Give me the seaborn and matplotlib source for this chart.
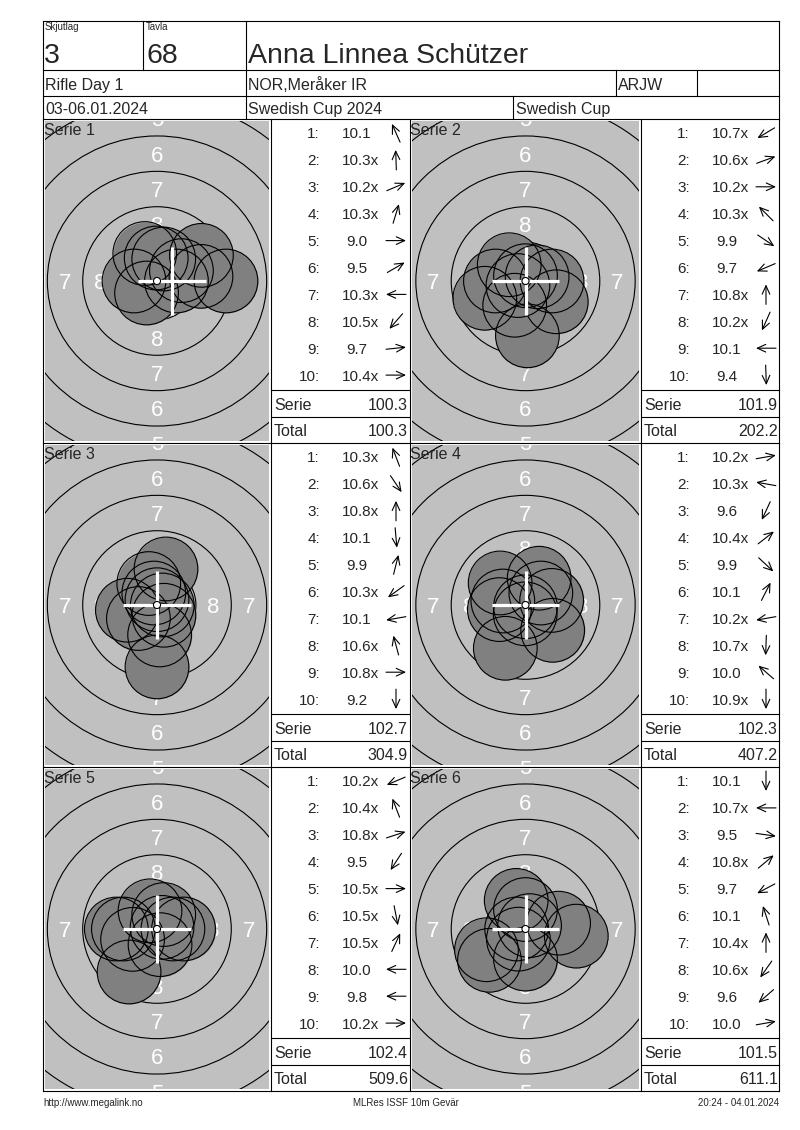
import numpy as np
import pandas as pd
import matplotlib
matplotlib.use("Agg")
import matplotlib.pyplot as plt
from matplotlib.patches import Circle
import seaborn as sns

# ---------------- data ----------------
shooter = "Anna Linnea Schützer"
relay_label, relay = "Skjutlag", "3"
lane_label, lane = "Tavla", "68"
event = "Rifle Day 1"
club = "NOR,Meråker IR"
shooter_class = "ARJW"
dates = "03-06.01.2024"
competition = "Swedish Cup 2024"
cup = "Swedish Cup"
footer_left = "http://www.megalink.no"
footer_mid = "MLRes ISSF 10m Gevär"
footer_right = "20:24 - 04.01.2024"

series_names = ["Serie 1", "Serie 2", "Serie 3", "Serie 4", "Serie 5", "Serie 6"]

s1_shots = ["10.1", "10.3x", "10.2x", "10.3x", "9.0", "9.5", "10.3x", "10.5x", "9.7", "10.4x"]
s2_shots = ["10.7x", "10.6x", "10.2x", "10.3x", "9.9", "9.7", "10.8x", "10.2x", "10.1", "9.4"]
s3_shots = ["10.3x", "10.6x", "10.8x", "10.1", "9.9", "10.3x", "10.1", "10.6x", "10.8x", "9.2"]
s4_shots = ["10.2x", "10.3x", "9.6", "10.4x", "9.9", "10.1", "10.2x", "10.7x", "10.0", "10.9x"]
s5_shots = ["10.2x", "10.4x", "10.8x", "9.5", "10.5x", "10.5x", "10.5x", "10.0", "9.8", "10.2x"]
s6_shots = ["10.1", "10.7x", "9.5", "10.8x", "9.7", "10.1", "10.4x", "10.6x", "9.6", "10.0"]

# direction of each shot from the centre (degrees, 0 = right, 90 = up), read from the arrows
s1_dirs = [114, 92, 23, 73, 0, 30, 180, 229, 6, 0]
s2_dirs = [211, 20, 0, 135, 326, 203, 90, 246, 180, 272]
s3_dirs = [111, 304, 90, 275, 76, 216, 190, 105, 0, 270]
s4_dirs = [10, 170, 245, 38, 317, 63, 190, 268, 139, 270]
s5_dirs = [203, 111, 18, 237, 0, 281, 65, 180, 180, 0]
s6_dirs = [270, 180, 352, 40, 208, 108, 90, 235, 221, 10]

series_sums = [100.3, 101.9, 102.7, 102.3, 102.4, 101.5]
running_totals = [100.3, 202.2, 304.9, 407.2, 509.6, 611.1]

# white cross position (mm from centre) per series
cross_dx = [1.05, 0, 0, 0, 0, 0]
cross_dy = [0, 0, 0, 0, 0, 0]

ring_labels = [8, 7, 6, 5]
ring_radii_mm = [2.75, 5.25, 7.75, 10.25, 12.75, 15.25]
pellet_diam_mm = 4.5

all_shots = [s1_shots, s2_shots, s3_shots, s4_shots, s5_shots, s6_shots]
all_dirs = [s1_dirs, s2_dirs, s3_dirs, s4_dirs, s5_dirs, s6_dirs]

# ---------------- style ----------------
sns.set_theme(style="white")
plt.rcParams["font.family"] = ["Liberation Sans", "DejaVu Sans"]

W, H = 800, 1130
S = 14.15  # pixels per mm on the targets
LW = 0.8

fig = plt.figure(figsize=(W / 100, H / 100), dpi=100)
fig.patch.set_facecolor("white")

col_cell_l = [43, 410]
col_cell_r = [271, 641]
col_cx = [157, 525.5]
list_l = [271, 641]
row_top = [119, 443, 767]

marker_s = (pellet_diam_mm * S * 0.72) ** 2

for i in range(6):
    col, row = i % 2, i // 2
    top = row_top[row]
    gx0, gx1 = col_cell_l[col] + 2, col_cell_r[col] - 2
    gy0, gy1 = top + 2, top + 322
    cx, cy = col_cx[col], top + 162
    xlim = ((gx0 - cx) / S, (gx1 - cx) / S)
    ylim = ((cy - gy1) / S, (cy - gy0) / S)

    ax = fig.add_axes([gx0 / W, 1 - gy1 / H, (gx1 - gx0) / W, (gy1 - gy0) / H])
    ax.set_facecolor("#c0c0c0")

    for r in ring_radii_mm:
        ax.add_patch(Circle((0, 0), r, fill=False, ec="black", lw=LW, zorder=1))
    for k in ring_labels:
        rr = 2.5 * (10 - k) - 1.0
        for ux, uy in [(0, 1), (0, -1), (1, 0), (-1, 0)]:
            tx, ty = ux * rr, uy * rr
            if not (xlim[0] - 0.2 < tx < xlim[1] + 0.2 and ylim[0] - 0.6 < ty < ylim[1] + 0.6):
                continue
            ax.text(tx, ty, str(k), color="white", fontsize=16,
                    ha="center", va="center_baseline", zorder=2, clip_on=True)

    vals = np.array([float(s.rstrip("x")) for s in all_shots[i]])
    ang = np.deg2rad(np.array(all_dirs[i], dtype=float))
    dist = (10.95 - vals) * 2.5
    df = pd.DataFrame({"x": dist * np.cos(ang), "y": dist * np.sin(ang)})

    sns.scatterplot(data=df, x="x", y="y", s=marker_s, color="#808080",
                    linewidth=0, ax=ax, legend=False, zorder=3)
    ax.scatter(df["x"], df["y"], s=marker_s, facecolors="none",
               edgecolors="black", linewidths=LW, zorder=4)

    mx, my = cross_dx[i], cross_dy[i]
    ax.plot([mx - 2.4, mx + 2.4], [my, my], color="white", lw=2.3,
            solid_capstyle="butt", zorder=5)
    ax.plot([mx, mx], [my - 2.4, my + 2.4], color="white", lw=2.3,
            solid_capstyle="butt", zorder=5)
    ax.add_patch(Circle((0, 0), 0.25, fc="white", ec="black", lw=LW, zorder=6))

    ax.set_xlim(*xlim)
    ax.set_ylim(*ylim)
    ax.set_xlabel("")
    ax.set_ylabel("")
    ax.set_xticks([])
    ax.set_yticks([])
    sns.despine(ax=ax, left=True, bottom=True)

# ---------------- overlay: grid lines and text in pixel coordinates ----------------
ax0 = fig.add_axes([0, 0, 1, 1])
ax0.set_xlim(0, W)
ax0.set_ylim(H, 0)
ax0.set_axis_off()
ax0.set_zorder(10)


def hline(y, x0, x1):
    ax0.plot([x0, x1], [y, y], color="black", lw=LW, solid_capstyle="projecting")


def vline(x, y0, y1):
    ax0.plot([x, x], [y0, y1], color="black", lw=LW, solid_capstyle="projecting")


L, R, T, B = 43, 779, 21, 1091
for y in [T, 70, 96, 119, 443, 767, B]:
    hline(y, L, R)
vline(L, T, B)
vline(R, T, B)
vline(143, T, 70)
vline(246, T, 119)
vline(616, 70, 96)
vline(697, 70, 96)
vline(513, 96, 119)
for x in [271, 410, 641]:
    vline(x, 119, B)
for top in row_top:
    for lx in list_l:
        hline(top + 271, lx, lx + 138 if lx == 271 else R)
        hline(top + 298, lx, lx + 138 if lx == 271 else R)

# header texts
ax0.text(45, 22, relay_label, fontsize=7, ha="left", va="top")
ax0.text(146, 22, lane_label, fontsize=7, ha="left", va="top")
ax0.text(44, 53, relay, fontsize=20.5, ha="left", va="center_baseline")
ax0.text(146, 53, lane, fontsize=20.5, ha="left", va="center_baseline")
ax0.text(248, 53, shooter, fontsize=20.5, ha="left", va="center_baseline")
ax0.text(45, 84, event, fontsize=11.5, ha="left", va="center_baseline")
ax0.text(248, 84, club, fontsize=11.5, ha="left", va="center_baseline")
ax0.text(618, 84, shooter_class, fontsize=11.5, ha="left", va="center_baseline")
ax0.text(45, 108, dates, fontsize=11.5, ha="left", va="center_baseline")
ax0.text(248, 108, competition, fontsize=11.5, ha="left", va="center_baseline")
ax0.text(516, 108, cup, fontsize=11.5, ha="left", va="center_baseline")

# series panels text
for i in range(6):
    col, row = i % 2, i // 2
    top = row_top[row]
    ax0.text(col_cell_l[col] + 0.5, top + 10, series_names[i], fontsize=11.5,
             ha="left", va="center_baseline")
    lx = list_l[col]
    for j, lab in enumerate(all_shots[i]):
        y = top + 14 + 26.9 * j
        ax0.text(lx + 49, y, f"{j + 1}:", fontsize=11, ha="right", va="center_baseline")
        # the numeric part is centred; an inner-ten "x" is appended to it
        vx = lx + 85.5 + (3.8 if lab.endswith("x") else 0)
        ax0.text(vx, y, lab, fontsize=11, ha="center", va="center_baseline")
        th = np.deg2rad(all_dirs[i][j])
        acx, hl = lx + 125, 10
        ax0.annotate("", xy=(acx + hl * np.cos(th), y - hl * np.sin(th)),
                     xytext=(acx - hl * np.cos(th), y + hl * np.sin(th)),
                     arrowprops=dict(arrowstyle="->,head_length=0.55,head_width=0.25",
                                     color="black", lw=0.8, shrinkA=0, shrinkB=0,
                                     mutation_scale=11))
    ax0.text(lx + 3, top + 285, "Serie", fontsize=11.5, ha="left", va="center_baseline")
    ax0.text(lx + 137, top + 285, f"{series_sums[i]:.1f}", fontsize=11.5,
             ha="right", va="center_baseline")
    ax0.text(lx + 3, top + 311, "Total", fontsize=11.5, ha="left", va="center_baseline")
    ax0.text(lx + 137, top + 311, f"{running_totals[i]:.1f}", fontsize=11.5,
             ha="right", va="center_baseline")

# footer
ax0.text(43, 1102, footer_left, fontsize=7, ha="left", va="center_baseline")
ax0.text(406, 1102, footer_mid, fontsize=7, ha="center", va="center_baseline")
ax0.text(779, 1102, footer_right, fontsize=7, ha="right", va="center_baseline")

fig.savefig("out.png", dpi=100, facecolor="white")
